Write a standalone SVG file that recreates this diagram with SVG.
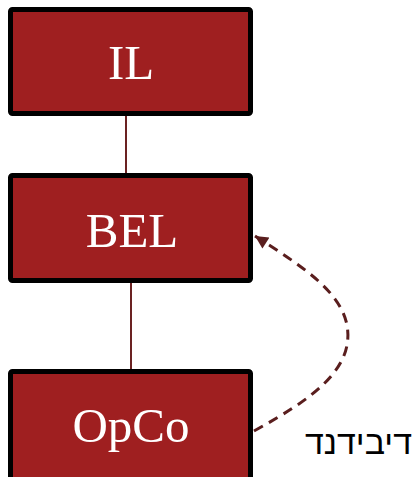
<svg xmlns="http://www.w3.org/2000/svg" width="415" height="477" viewBox="0 0 415 477">
  <defs>
    <style>
      .box { fill: #9f1f20; stroke: #000; stroke-width: 5; }
      .lbl { font-family: "Liberation Serif", "Times New Roman", serif; font-size: 49px; fill: #fff; text-anchor: middle; }
      .link { stroke: #6b2222; stroke-width: 2; fill: none; }
      .flow { stroke: #5a1e1e; stroke-width: 3; fill: none; stroke-dasharray: 10 7; }
      .elbl { font-family: "Liberation Sans", "DejaVu Sans", sans-serif; font-size: 34px; fill: #000; }
    </style>
    <marker id="arrow" viewBox="0 0 10 10" refX="10" refY="5" markerWidth="15" markerHeight="13" orient="auto" markerUnits="userSpaceOnUse">
      <path d="M0,0 L10,5 L0,10 z" fill="#5a1e1e"/>
    </marker>
  </defs>

  <g id="IL">
    <rect class="box" x="10.5" y="9.5" width="240" height="104" rx="2"/>
    <text class="lbl" x="131" y="79">IL</text>
  </g>

  <g id="BEL">
    <rect class="box" x="10.5" y="175.5" width="240" height="105" rx="2"/>
    <text class="lbl" x="132" y="247">BEL</text>
  </g>

  <g id="OpCo">
    <rect class="box" x="10.5" y="371.5" width="240" height="110" rx="2"/>
    <text class="lbl" x="131" y="442">OpCo</text>
  </g>

  <g id="connectors">
    <line class="link" x1="126" y1="116" x2="126" y2="173"/>
    <line class="link" x1="131" y1="283" x2="131" y2="369"/>
    <path class="flow" d="M254,431 C310,400 355,370 347,325 C340,290 300,265 255,236" marker-end="url(#arrow)"/>
    <text class="elbl" x="412" y="454" text-anchor="end">דיבידנד</text>
  </g>
</svg>
